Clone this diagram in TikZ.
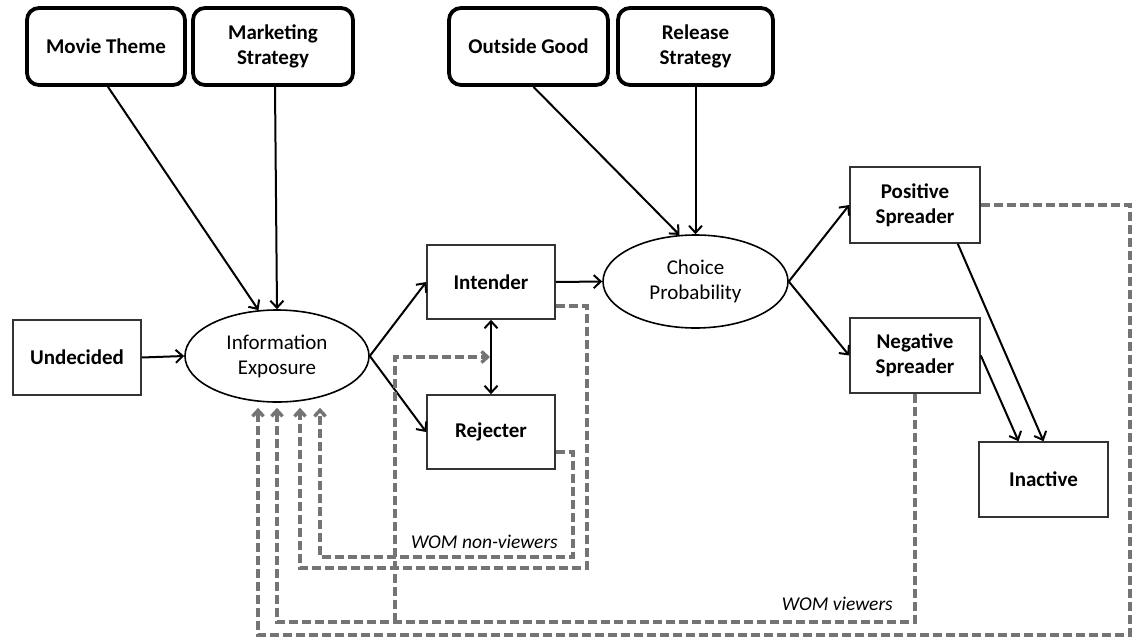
\documentclass[tikz,border=0pt]{standalone}
\usepackage{fontspec}
\setmainfont{Carlito}
\usetikzlibrary{arrows.meta,shapes.geometric,calc}
\definecolor{womgray}{HTML}{747474}
\definecolor{boxline}{HTML}{333333}
\begin{document}
\begin{tikzpicture}[x=1pt,y=-1pt,
  topbox/.style={draw=black,line width=3.8pt,rounded corners=12pt,minimum height=77pt,inner sep=0pt,align=center,font=\fontsize{21}{25}\selectfont\bfseries},
  plainbox/.style={draw=boxline,line width=1.6pt,inner sep=0pt,align=center,font=\fontsize{21}{25}\selectfont\bfseries},
  ell/.style={ellipse,draw=black,line width=1.6pt,inner sep=0pt,minimum width=184pt,minimum height=92pt,align=center,font=\fontsize{21}{25}\selectfont},
  lab/.style={inner sep=0pt,font=\fontsize{19.5}{22}\selectfont\itshape},
  flow/.style={draw=black,line width=2pt,-{Straight Barb[length=7pt,width=13pt]}},
  both/.style={draw=black,line width=2pt,{Straight Barb[length=7pt,width=13pt]}-{Straight Barb[length=7pt,width=13pt]}},
  wom/.style={draw=womgray,line width=3.4pt,dash pattern=on 9pt off 4pt,-{Straight Barb[length=6pt,width=11pt]}}
]
\useasboundingbox[fill=white] (0,0) rectangle (1133,640);

% top boxes
\node[topbox,minimum width=158pt] (mt) at (106,46.5) {Movie Theme};
\node[topbox,minimum width=160pt] (ms) at (273,46.5) {Marketing\\Strategy};
\node[topbox,minimum width=159pt] (og) at (528.5,46.5) {Outside Good};
\node[topbox,minimum width=155pt] (rs) at (695.5,46.5) {Release\\Strategy};

% main nodes
\node[plainbox,minimum width=128pt,minimum height=75pt] (ud) at (77,357.5) {Undecided};
\node[ell] (ie) at (277,356) {Information\\Exposure};
\node[plainbox,minimum width=128pt,minimum height=74pt] (it) at (491,282) {Intender};
\node[plainbox,minimum width=128pt,minimum height=74pt] (rj) at (491,432) {Rejecter};
\node[ell,minimum width=185pt,minimum height=93pt] (cp) at (695.5,281.5) {Choice\\Probability};
\node[plainbox,minimum width=130pt,minimum height=76pt] (ps) at (915,205) {Positive\\Spreader};
\node[plainbox,minimum width=130pt,minimum height=75pt] (ns) at (915,355.5) {Negative\\Spreader};
\node[plainbox,minimum width=129pt,minimum height=75pt] (ia) at (1043.5,479.5) {Inactive};

% labels
\node[lab,anchor=east] (wnv) at (558,542) {WOM non-viewers};
\node[lab,anchor=east] (wv) at (893,604) {WOM viewers};

% solid connectors
\draw[flow] ($(mt.south)+(2,0)$) -- (ie.112);
\draw[flow] ($(ms.south)+(2,0)$) -- (ie.north);
\draw[flow] (ud.east) -- (ie.west);
\draw[flow] (ie.east) -- (it.west);
\draw[flow] (ie.east) -- (rj.west);
\draw[both] (it.south) -- (rj.north);
\draw[flow] (it.east) -- (cp.west);
\draw[flow] ($(og.south)+(5,0)$) -- (cp.109);
\draw[flow] (rs.south) -- (cp.north);
\draw[flow] (cp.east) -- (ps.west);
\draw[flow] (cp.east) -- (ns.west);
\draw[flow] ($(ps.south east)+(-23,0)$) -- (ia.north);
\draw[flow] (ns.east) -- ($(ia.north)+(-25,0)$);

% WOM dashed connectors
\coordinate (mid) at ($(it.south)!0.5!(rj.north)$);
\draw[wom] (ps.east) -| (1130,635) -| ($(ie.south)+(-19,5)$);
\draw[wom] (ns.south) -- (915,622) -| ($(ie.south)+(0,5)$);
\draw[wom,shorten >=1pt] (395,622) |- (mid);
\draw[wom] ($(it.east)+(0,24)$) -- (587,306) -- (587,568) -| ($(ie.south)+(23,5)$);
\draw[wom] ($(rj.east)+(0,20)$) -- (573,452) -- (573,557) -| ($(ie.south)+(43,5)$);
\end{tikzpicture}
\end{document}
